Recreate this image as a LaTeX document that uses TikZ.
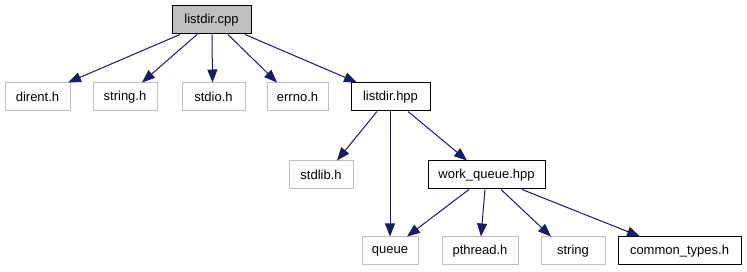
\documentclass[tikz,border=0pt]{standalone}
\usepackage{fontspec}
\setmainfont{Liberation Sans}
\usetikzlibrary{positioning}
\usetikzlibrary{arrows.meta}
\definecolor{edgeblue}{HTML}{191970}
\definecolor{boxgray}{HTML}{BFBFBF}
\tikzset{
  hdr/.style={draw=boxgray, line width=1pt, minimum height=28pt, inner sep=0pt,
    font=\fontsize{13}{15}\selectfont},
  src/.style={hdr, draw=black},
  dep/.style={draw=edgeblue, line width=1pt,
    -{Stealth[inset=0pt,length=13pt,width=10pt]}}
}

\begin{document}
\begin{tikzpicture}[x=1pt,y=-1pt]
\useasboundingbox (0,0) rectangle (747,272);

% top file
\node[src, fill=boxgray, minimum width=79pt] (cpp) at (211.5,20) {listdir.cpp};

% first level includes
\node[hdr, minimum width=65pt] (dirent) at (37.5,97) {dirent.h};
\node[hdr, minimum width=64pt] (stringh) at (125,97) {string.h};
\node[hdr, minimum width=63pt] (stdio) at (213.5,97) {stdio.h};
\node[hdr, minimum width=61pt] (errno) at (297.5,97) {errno.h};
\node[src, minimum width=79pt] (hpp) at (390.5,97) {listdir.hpp};

% second level
\node[hdr, minimum width=64pt] (stdlib) at (321,175) {stdlib.h};
\node[src, minimum width=117pt] (workq) at (486.5,175) {work\_queue.hpp};

% third level
\node[hdr, minimum width=56pt] (queue) at (390,251) {queue};
\node[hdr, minimum width=76pt] (pthread) at (480,251) {pthread.h};
\node[hdr, minimum width=64pt] (string) at (573,251) {string};
\node[src, minimum width=123pt] (common) at (679.5,251) {common\_types.h};

% listdir.cpp includes
\draw[dep] ([xshift=-31.5pt]cpp.south) -- ([xshift=30.5pt]dirent.north);
\draw[dep] ([xshift=-14.5pt]cpp.south) -- ([xshift=17pt]stringh.north);
\draw[dep] ([xshift=0.5pt]cpp.south) -- ([xshift=-1pt]stdio.north);
\draw[dep] ([xshift=16.5pt]cpp.south) -- ([xshift=-20.5pt]errno.north);
\draw[dep] ([xshift=33.5pt]cpp.south) -- ([xshift=-33.5pt]hpp.north);

% listdir.hpp includes
\draw[dep] ([xshift=-13.5pt]hpp.south) -- ([xshift=16pt]stdlib.north);
\draw[dep] ([xshift=-0.5pt]hpp.south) -- (queue.north);
\draw[dep] ([xshift=17.5pt]hpp.south) -- ([xshift=-19.5pt]workq.north);

% work_queue.hpp includes
\draw[dep] ([xshift=-17.5pt]workq.south) -- ([xshift=17pt]queue.north);
\draw[dep] ([xshift=-1.5pt]workq.south) -- ([xshift=1pt]pthread.north);
\draw[dep] ([xshift=14.5pt]workq.south) -- ([xshift=-22pt]string.north);
\draw[dep] ([xshift=35.5pt]workq.south) -- ([xshift=-39.5pt]common.north);

\end{tikzpicture}
\end{document}
